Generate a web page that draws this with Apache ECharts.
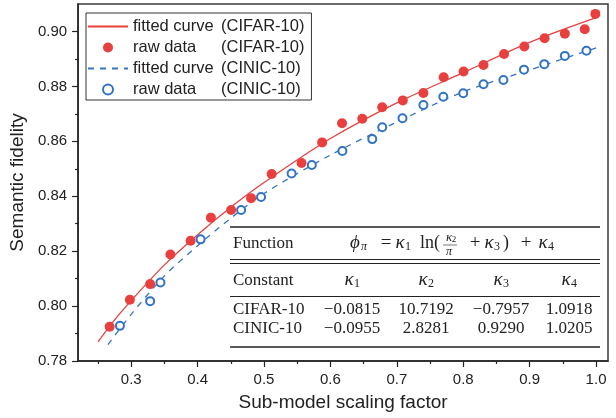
<!DOCTYPE html>
<html>
<head>
    <meta charset="utf-8">
    <script src="https://cdn.jsdelivr.net/npm/echarts@6/dist/echarts.min.js"></script>
    <style>
        html, body { margin: 0; padding: 0; background: #fff; }
        #main { width: 616px; height: 418px; }
    </style>
</head>
<body>
<div id="main"></div>
<script>
    // raw data
    var cifarX = [0.2675, 0.298, 0.3285, 0.359, 0.3895, 0.420, 0.4505, 0.4805, 0.5115, 0.5565, 0.5875, 0.6175, 0.648,
        0.678, 0.709, 0.740, 0.7705, 0.8005, 0.8305, 0.8615, 0.892, 0.9225, 0.953, 0.983, 0.999];
    var cifarY = [0.7925, 0.8023, 0.808, 0.8188, 0.8238, 0.8322, 0.835, 0.8393, 0.8481, 0.8521, 0.8596, 0.8666, 0.8682,
        0.8724, 0.8749, 0.8776, 0.8833, 0.8854, 0.8878, 0.8918, 0.8945, 0.8975, 0.8992, 0.9008, 0.9064];
    var cinicX = [0.283, 0.3285, 0.344, 0.4045, 0.4655, 0.4955, 0.5415, 0.572, 0.618, 0.663, 0.678, 0.7085, 0.740,
        0.770, 0.800, 0.8305, 0.8605, 0.8915, 0.922, 0.953, 0.9855];
    var cinicY = [0.7928, 0.8018, 0.8086, 0.8243, 0.835, 0.8397, 0.8483, 0.8514, 0.8565, 0.8608, 0.8651, 0.8684, 0.8732,
        0.8762, 0.8775, 0.8808, 0.8823, 0.8861, 0.8881, 0.8911, 0.893];

    // fitted curves, sampled from the figure
    var fitCifarX = [0.25, 0.275, 0.3, 0.35, 0.4, 0.45, 0.5, 0.6, 0.7, 0.8, 0.9, 1.0];
    var fitCifarY = [0.787, 0.795, 0.802, 0.815, 0.826, 0.836, 0.845, 0.861, 0.874, 0.885, 0.896, 0.905];
    var fitCinicX = [0.265, 0.3, 0.35, 0.4, 0.45, 0.5, 0.6, 0.7, 0.8, 0.9, 1.0];
    var fitCinicY = [0.786, 0.797, 0.811, 0.822, 0.832, 0.841, 0.855, 0.867, 0.878, 0.886, 0.894];

    // ticks
    var xLabels = [0.3, 0.4, 0.5, 0.6, 0.7, 0.8, 0.9, 1.0];
    var xMinor = [0.25, 0.35, 0.45, 0.55, 0.65, 0.75, 0.85, 0.95];
    var yLabels = [0.78, 0.80, 0.82, 0.84, 0.86, 0.88, 0.90];
    var yMinor = [0.79, 0.81, 0.83, 0.85, 0.87, 0.89];

    // table
    var tableRows = ['CIFAR-10', 'CINIC-10'];
    var tableVals = [
        ['\u22120.0815', '10.7192', '\u22120.7957', '1.0918'],
        ['\u22120.0955', '2.8281', '0.9290', '1.0205']
    ];

    var red = '#e8403f';
    var blue = '#3274c2';
    var ink = '#222';

    function zip(a, b) {
        return a.map(function(v, i) { return [v, b[i]]; });
    }

    var serif = '"Liberation Serif", "DejaVu Serif", serif';
    var sans = '"Liberation Sans", Arial, sans-serif';

    function txt(x, y, text, align, size, italic) {
        return {
            type: 'text', x: x, y: y, z: 10,
            style: {
                text: text, fill: ink,
                font: (italic ? 'italic ' : '') + (size || 17) + 'px ' + serif,
                align: align || 'left', verticalAlign: 'middle'
            }
        };
    }
    function rule(y, w) {
        return {
            type: 'line', z: 10,
            shape: { x1: 230, y1: y, x2: 600, y2: y },
            style: { stroke: ink, lineWidth: w || 1.3 }
        };
    }
    // kappa with a subscript, centred at cx
    function kappa(cx, y, sub) {
        return [txt(cx - 3, y, 'κ', 'center', 19, true), txt(cx + 5, y + 4, sub, 'center', 12)];
    }

    var colX = [352, 426, 501, 569];
    var rowY = [310, 328.5];
    var fy = 243;
    var graphics = [
        rule(227, 1.5), rule(259.5, 1.1), rule(263.5, 1.1), rule(296.5, 1.1), rule(347, 1.5),
        txt(233, 243.5, 'Function'),
        txt(350, fy, 'ϕ', 'left', 19, true),
        txt(361, fy + 4, 'π', 'left', 12, true),
        txt(386, fy, '=', 'center', 19),
        txt(420, fy, 'ln(', 'left', 18),
        txt(449, fy - 5.5, 'κ', 'center', 13, true),
        txt(454, fy - 3, '2', 'center', 9),
        txt(449, fy + 9, 'π', 'center', 12, true),
        { type: 'line', z: 10, shape: { x1: 443, y1: fy + 2, x2: 457, y2: fy + 2 }, style: { stroke: ink, lineWidth: 0.6 } },
        txt(475, fy, '+', 'center', 19),
        txt(503, fy, ')', 'left', 18),
        txt(526, fy, '+', 'center', 19),
        txt(233, 281, 'Constant')
    ].concat(kappa(403, fy, '1'), kappa(492, fy, '3'), kappa(546, fy, '4'));
    colX.forEach(function(cx, k) {
        graphics = graphics.concat(kappa(cx, 280, String(k + 1)));
    });
    tableRows.forEach(function(name, r) {
        graphics.push(txt(233, rowY[r], name));
        tableVals[r].forEach(function(v, k) {
            graphics.push(txt(colX[k], rowY[r], v, 'center'));
        });
    });

    var chart = echarts.init(document.getElementById('main'), null, { renderer: 'canvas' });

    var option = {
        animation: false,
        backgroundColor: '#fff',
        grid: {
            left: 76, right: 8, top: 4, bottom: 57,
            show: true, borderColor: '#3a3a3a', borderWidth: 1.5, backgroundColor: 'transparent'
        },
        legend: {
            orient: 'vertical',
            left: 86, top: 13,
            padding: [5, 7, 2, 1],
            itemGap: 4,
            itemWidth: 40, itemHeight: 10,
            borderColor: '#333', borderWidth: 1,
            backgroundColor: '#fff',
            data: [
                { name: 'fitted curve (CIFAR-10)', itemStyle: { opacity: 0 } },
                'raw data (CIFAR-10)',
                { name: 'fitted curve (CINIC-10)', itemStyle: { opacity: 0 } },
                'raw data (CINIC-10)'
            ],
            formatter: function(name) {
                var p = name.split(' (');
                return '{a|' + p[0] + '}{b|(' + p[1] + '}';
            },
            textStyle: {
                color: ink, fontFamily: sans, fontSize: 16.5,
                rich: {
                    a: { width: 88, fontFamily: sans, fontSize: 16.5, color: ink, lineHeight: 17 },
                    b: { fontFamily: sans, fontSize: 16.5, color: ink, lineHeight: 17 }
                }
            }
        },
        xAxis: [{
            type: 'value', min: 0.22, max: 1.018,
            name: 'Sub-model scaling factor', nameLocation: 'middle', nameGap: 32,
            nameTextStyle: { color: ink, fontFamily: sans, fontSize: 19 },
            axisLine: { lineStyle: { color: ink, width: 1.5 } },
            axisTick: { customValues: xLabels, length: 6, lineStyle: { color: ink, width: 1.2 } },
            axisLabel: { customValues: xLabels, color: ink, fontFamily: sans, fontSize: 15, margin: 11,
                formatter: function(v) { return v.toFixed(1); } },
            splitLine: { show: false }
        }, {
            type: 'value', min: 0.22, max: 1.018, position: 'bottom',
            axisLine: { show: false },
            axisTick: { customValues: xMinor, length: 3, lineStyle: { color: ink, width: 1.2 } },
            axisLabel: { show: false },
            splitLine: { show: false }
        }],
        yAxis: [{
            type: 'value', min: 0.78, max: 0.91,
            name: 'Semantic fidelity', nameLocation: 'middle', nameGap: 39,
            nameTextStyle: { color: ink, fontFamily: sans, fontSize: 19 },
            axisLine: { show: true, lineStyle: { color: ink, width: 1.5 } },
            axisTick: { show: true, customValues: yLabels, length: 6, lineStyle: { color: ink, width: 1.2 } },
            axisLabel: { customValues: yLabels, color: ink, fontFamily: sans, fontSize: 15, margin: 11,
                formatter: function(v) { return v.toFixed(2); } },
            splitLine: { show: false }
        }, {
            type: 'value', min: 0.78, max: 0.91, position: 'left',
            axisLine: { show: false },
            axisTick: { show: true, customValues: yMinor, length: 3, lineStyle: { color: ink, width: 1.2 } },
            axisLabel: { show: false },
            splitLine: { show: false }
        }],
        series: [{
            name: 'fitted curve (CIFAR-10)',
            type: 'line', smooth: 0.3, symbol: 'none',
            data: zip(fitCifarX, fitCifarY),
            lineStyle: { color: red, width: 1.3 },
            itemStyle: { color: red },
            z: 2
        }, {
            name: 'raw data (CIFAR-10)',
            type: 'scatter', symbol: 'circle', symbolSize: 10,
            data: zip(cifarX, cifarY),
            itemStyle: { color: red, opacity: 1 },
            z: 4
        }, {
            name: 'fitted curve (CINIC-10)',
            type: 'line', smooth: 0.3, symbol: 'none',
            data: zip(fitCinicX, fitCinicY),
            lineStyle: { color: blue, width: 1.3, type: [6, 6] },
            itemStyle: { color: blue },
            z: 2
        }, {
            name: 'raw data (CINIC-10)',
            type: 'scatter', symbol: 'emptyCircle', symbolSize: 8,
            data: zip(cinicX, cinicY),
            itemStyle: { color: blue, borderColor: blue, borderWidth: 1.5, opacity: 1 },
            z: 3
        }],
        graphic: graphics
    };

    chart.setOption(option);
</script>
</body>
</html>
